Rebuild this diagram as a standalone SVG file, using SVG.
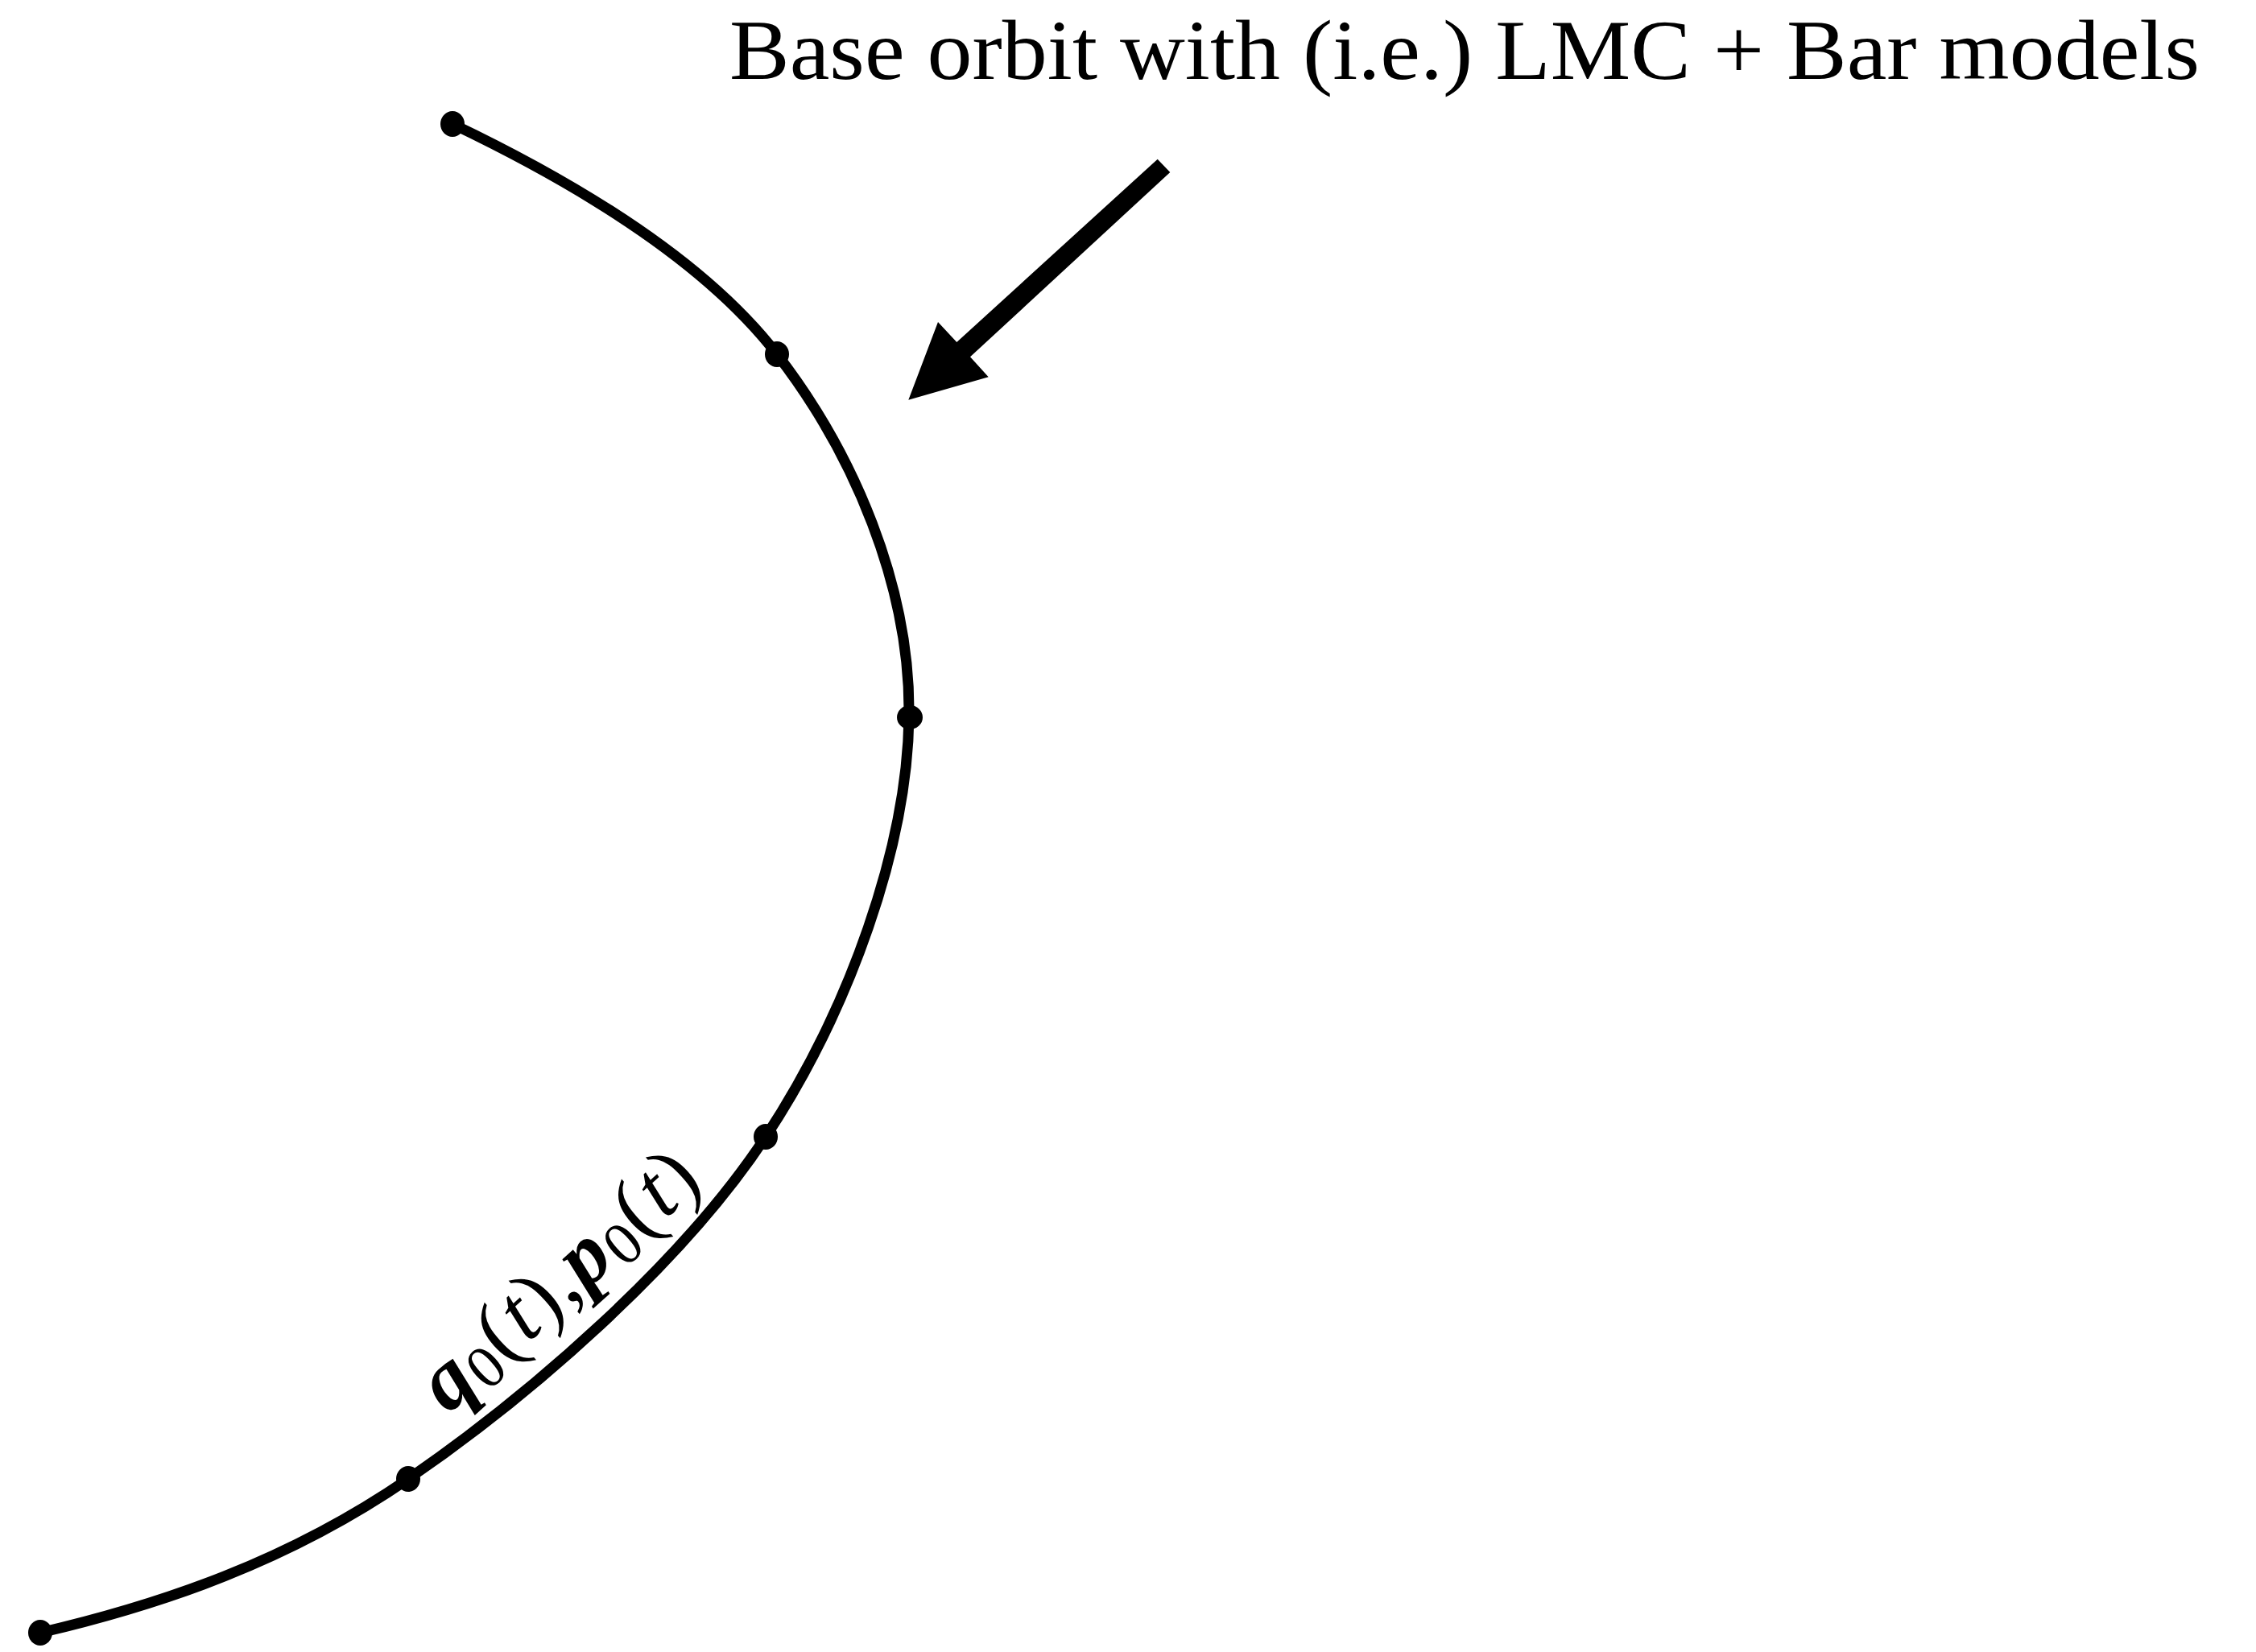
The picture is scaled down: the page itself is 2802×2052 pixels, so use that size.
<svg xmlns="http://www.w3.org/2000/svg" width="2802" height="2052" viewBox="0 0 2802 2052">
<style>
.orbit{fill:none;stroke:#000;stroke-width:13;stroke-linejoin:round}
.dot{fill:#000}
.lbl{font-family:"Liberation Serif",serif;fill:#000}
</style>
<rect width="2802" height="2052" fill="#fff"/>
<g id="connectors">
<path id="orbit" class="orbit" d="M562,154 C698,219 870,317 965,440 C1060,563 1131,728 1129,890 C1127,1052 1055,1254 951,1412 C847,1570 657,1734 507,1837 C357,1940 200,1993 50,2028"/>
<path id="pointer" d="M1437.7,197.7 L1453.3,214 L1205,443.3 L1227.7,468.3 L1128.3,496.7 L1165,400 L1188.3,425 Z" fill="#000"/>
</g>
<g id="node-start"><ellipse class="dot" cx="562" cy="154" rx="15" ry="16"/></g>
<g id="node-p1"><ellipse class="dot" cx="965" cy="440" rx="15" ry="16"/></g>
<g id="node-p2"><ellipse class="dot" cx="1130" cy="891" rx="16" ry="15"/></g>
<g id="node-p3"><ellipse class="dot" cx="951" cy="1412" rx="15" ry="16"/></g>
<g id="node-p4"><ellipse class="dot" cx="507" cy="1837" rx="15" ry="16"/></g>
<g id="node-end"><ellipse class="dot" cx="50" cy="2028" rx="15" ry="16"/></g>
<g id="title">
<text class="lbl" x="906" y="98" font-size="106" textLength="1826" lengthAdjust="spacingAndGlyphs">Base orbit with (i.e.) LMC + Bar models</text>
</g>
<g id="orbit-label">
<text class="lbl" transform="translate(557,1757) rotate(-42)" font-size="106" letter-spacing="2"><tspan font-style="italic" font-weight="bold">q</tspan><tspan font-size="75" dy="12">0</tspan><tspan dy="-12">(</tspan><tspan font-style="italic">t</tspan><tspan>),</tspan><tspan font-style="italic" font-weight="bold">p</tspan><tspan font-size="75" dy="12">0</tspan><tspan dy="-12">(</tspan><tspan font-style="italic">t</tspan><tspan>)</tspan></text>
</g>
</svg>
